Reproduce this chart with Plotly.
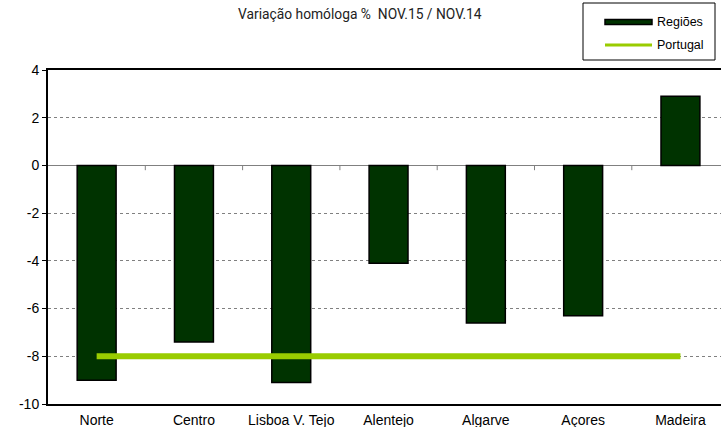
import plotly.graph_objects as go

categories = ["Norte", "Centro", "Lisboa V. Tejo", "Alentejo", "Algarve", "Açores", "Madeira"]
regioes = [-9.0, -7.4, -9.1, -4.1, -6.6, -6.3, 2.9]
portugal = [-8.0, -8.0, -8.0, -8.0, -8.0, -8.0, -8.0]
y_ticks = [-10, -8, -6, -4, -2, 0, 2, 4]
y_tick_labels = ["-10", "-8", "-6", "-4", "-2", "0", "2", "4"]
title_text = "Variação homóloga %  NOV.15 / NOV.14"

W, H = 721, 427
ml, mr, mt, mb = 48, 0, 70, 23
pw, ph = W - ml - mr, H - mt - mb

def px(x):
    return (x - ml) / pw

def py(y):
    return (H - mb - y) / ph

idx = list(range(len(categories)))
fig = go.Figure()
fig.add_trace(go.Bar(x=idx, y=regioes, width=0.4, marker=dict(color="#003300", line=dict(color="#000000", width=1.5)),
                     showlegend=False, name="Regiões"))
fig.add_trace(go.Scatter(x=idx, y=portugal, mode="lines", line=dict(color="#99CC00", width=6),
                         showlegend=False, name="Portugal"))

# category tick marks on zero line
cat_unit_px = 97.3
xmax = -0.5 + pw / cat_unit_px
shapes = []
for b in range(len(categories)):
    shapes.append(dict(type="line", xref="x", yref="y", x0=b + 0.5, x1=b + 0.5, y0=0, y1=-0.2,
                       line=dict(color="#808080", width=1)))

# legend box
shapes.append(dict(type="rect", xref="paper", yref="paper", x0=px(583), x1=px(715), y0=py(3), y1=py(60),
                   line=dict(color="#000000", width=1), fillcolor="white"))
shapes.append(dict(type="rect", xref="paper", yref="paper", x0=px(605), x1=px(652), y0=py(19.5), y1=py(24.5),
                   line=dict(color="#000000", width=1.5), fillcolor="#003300"))
shapes.append(dict(type="line", xref="paper", yref="paper", x0=px(605), x1=px(652), y0=py(45), y1=py(45),
                   line=dict(color="#99CC00", width=3)))

annotations = [
    dict(text=title_text, xref="paper", yref="paper", x=px(360), y=py(14), showarrow=False,
         font=dict(family="Roboto", size=13.8, color="#222222"), xanchor="center", yanchor="middle"),
    dict(text="Regiões", xref="paper", yref="paper", x=px(655), y=py(22), showarrow=False,
         font=dict(family="Liberation Sans, Arial", size=12.5, color="#000000"), xanchor="left", yanchor="middle"),
    dict(text="Portugal", xref="paper", yref="paper", x=px(655), y=py(45), showarrow=False,
         font=dict(family="Liberation Sans, Arial", size=12.5, color="#000000"), xanchor="left", yanchor="middle"),
]

fig.update_layout(
    width=W, height=H,
    margin=dict(l=ml, r=mr, t=mt, b=mb, pad=0),
    paper_bgcolor="white", plot_bgcolor="white",
    font=dict(family="Liberation Sans, Arial", size=14, color="#000000"),
    shapes=shapes, annotations=annotations,
    showlegend=False,
    xaxis=dict(tickmode="array", tickvals=idx, ticktext=categories, range=[-0.5, xmax],
               showgrid=False, zeroline=False, showline=True, linecolor="#000000", linewidth=2,
               mirror=True, ticks="", tickfont=dict(size=14), ticklabelstandoff=2),
    yaxis=dict(range=[-10, 4], tickmode="array", tickvals=y_ticks, ticktext=y_tick_labels,
               showgrid=True, gridcolor="#808080", griddash="dot",
               gridwidth=1, zeroline=True, zerolinecolor="#808080", zerolinewidth=1,
               showline=True, linecolor="#000000", linewidth=2, ticks="outside", ticklen=4,
               tickcolor="#000000", tickfont=dict(size=14)),
)

fig.write_html("out.html", config={"displayModeBar": False},
               post_script="document.body.style.margin='0';document.body.style.overflow='hidden';")
